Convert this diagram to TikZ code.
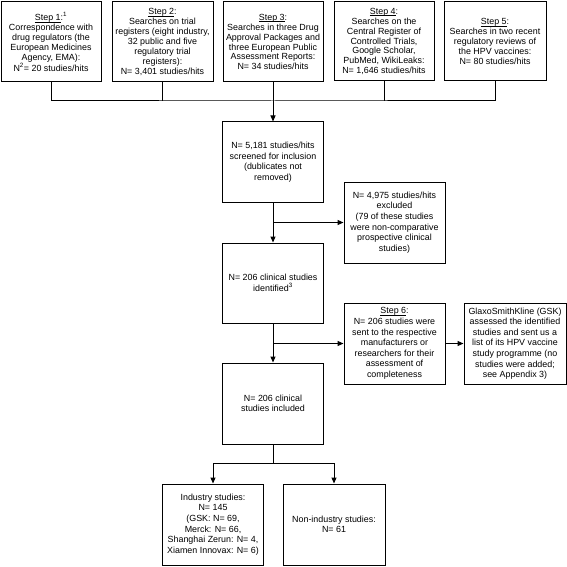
\documentclass[tikz,border=0pt]{standalone}
\usepackage{fontspec}
\setmainfont{Liberation Sans}
\usetikzlibrary{arrows.meta}
\newcommand\stepul[1]{\setbox0\hbox{#1}\rlap{\rule[-1.4pt]{\wd0}{0.45pt}}\box0}
\begin{document}
\begin{tikzpicture}[x=1pt,y=-1pt,
  box/.style={draw, line width=1pt, align=center, inner sep=0pt,
    font=\fontsize{8.9}{10.6}\selectfont, minimum width=100pt, minimum height=80pt},
  topbox/.style={box, font=\fontsize{8.9}{9.9}\selectfont},
  conn/.style={line width=1pt},
  arr/.style={line width=1pt, -{Triangle[length=6pt,width=5pt]}}]
\useasboundingbox (0,0) rectangle (567,567);
% top row
\node[topbox] (s1) at (51,42) {\stepul{Step 1}:\textsuperscript{1}\\Correspondence with\\drug regulators (the\\European Medicines\\Agency, EMA):\\N\textsuperscript{2}= 20 studies/hits};
\node[topbox, minimum width=101pt] (s2) at (162.5,42) {\stepul{Step 2}:\\Searches on trial\\registers (eight industry,\\32 public and five\\regulatory trial\\registers):\\N= 3,401 studies/hits};
\node[topbox] (s3) at (273,42) {\stepul{Step 3}:\\Searches in three Drug\\Approval Packages and\\three European Public\\Assessment Reports:\\N= 34 studies/hits};
\node[topbox, minimum height=79pt] (s4) at (384,41.5) {\stepul{Step 4}:\\Searches on the\\Central Register of\\Controlled Trials,\\Google Scholar,\\PubMed, WikiLeaks:\\N= 1,646 studies/hits};
\node[topbox, minimum width=102pt, minimum height=79pt] (s5) at (495,41.5) {\stepul{Step 5}:\\Searches in two recent\\regulatory reviews of\\the HPV vaccines:\\N= 80 studies/hits};
% main column
\node[box, minimum width=101pt] (scr) at (273,162) {N= 5,181 studies/hits\\screened for inclusion\\(dublicates not\\removed)};
\node[box, minimum width=101pt, minimum height=81pt] (exc) at (394.5,222.5) {N= 4,975 studies/hits\\excluded\\(79 of these studies\\were non-comparative\\prospective clinical\\studies)};
\node[box, minimum width=101pt] (idf) at (273,283) {N= 206 clinical studies\\identified\textsuperscript{3}};
\node[box, minimum width=101pt, minimum height=81pt] (s6) at (394.5,343.5) {\stepul{Step 6}:\\N= 206 studies were\\sent to the respective\\manufacturers or\\researchers for their\\assessment of\\completeness};
\node[box, minimum width=102pt, minimum height=81pt] (gsk) at (515,343.5) {GlaxoSmithKline (GSK)\\assessed the identified\\studies and sent us a\\list of its HPV vaccine\\study programme (no\\studies were added;\\see Appendix 3)};
\node[box, minimum width=101pt, minimum height=81pt] (inc) at (273,403.5) {N= 206 clinical\\studies included};
\node[box, minimum width=101pt, minimum height=81pt] (ind) at (213,524.5) {Industry studies:\\N= 145\\(GSK: N= 69,\\Merck: N= 66,\\Shanghai Zerun: N= 4,\\Xiamen Innovax: N= 6)};
\node[box, minimum width=102pt, minimum height=81pt] (non) at (334,524.5) {Non-industry studies:\\N= 61};
% connectors
\coordinate (join) at (273,101);
\draw[conn] (s1.south) |- (join) -| (s5.south);
\draw[conn] (s2.south) -- (s2.south |- join);
\draw[conn] (s4.south) -- (s4.south |- join);
\draw[arr] (s3.south) -- (scr.north);
\draw[arr] (scr.south) -- (idf.north);
\draw[arr] (scr.south |- exc.west) -- (exc.west);
\draw[arr] (idf.south) -- (inc.north);
\draw[arr] (idf.south |- s6.west) -- (s6.west);
\draw[arr] (s6.east) -- (gsk.west);
\coordinate (br) at (273,463);
\draw[conn] (inc.south) -- (br);
\draw[arr] (br) -| (ind.north);
\draw[arr] (br) -| (non.north);
\end{tikzpicture}
\end{document}
